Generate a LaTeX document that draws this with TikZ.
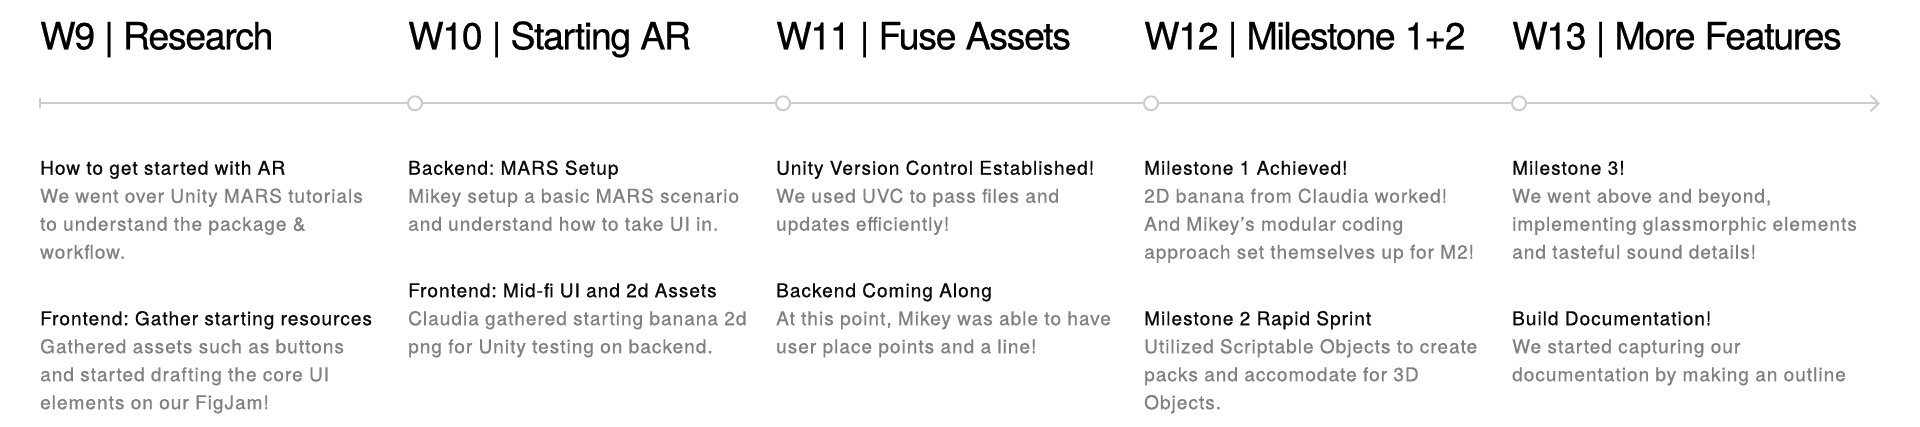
\documentclass[tikz,border=0pt]{standalone}
\usepackage{fontspec}
\setmainfont{TeX Gyre Heros}
\newfontfamily\titlefont[LetterSpace=-3.6,FakeBold=0.6]{TeX Gyre Heros}
\newfontfamily\bodyfont[LetterSpace=5.4,FakeBold=0.8]{TeX Gyre Heros}
\usetikzlibrary{arrows.meta}
\definecolor{linec}{HTML}{CCCCCC}
\definecolor{bodyc}{HTML}{808080}
\definecolor{headc}{HTML}{0A0A0A}
\tikzset{
  weektitle/.style={anchor=base west, inner sep=0pt, font=\titlefont\fontsize{37.5}{40}\selectfont, text=black},
  sect/.style={anchor=north west, inner sep=0pt, align=left, font=\bodyfont\fontsize{19}{28}\selectfont\frenchspacing, text=bodyc},
  dot/.style={circle, draw=linec, fill=white, line width=2pt, minimum size=14pt, inner sep=0pt},
  axis/.style={draw=linec, line width=2pt},
}
\newcommand{\hd}[1]{\rule{0pt}{20pt}\textcolor{headc}{#1}}
\begin{document}
\begin{tikzpicture}[x=1pt,y=-1pt]
\useasboundingbox (0,0) rectangle (1920,427);
% titles
\node[weektitle] (t9)  at (40,49.3)   {W9 | Research};
\node[weektitle] (t10) at (408,49.3)  {W10 | Starting AR};
\node[weektitle] (t11) at (776,49.3)  {W11 | Fuse Assets};
\node[weektitle] (t12) at (1144,49.3) {W12 | Milestone 1+2};
\node[weektitle] (t13) at (1512,49.3) {W13 | More Features};
% timeline
\coordinate (start) at (40,103.3);
\coordinate (end) at (1880,103.3);
\node[dot] (d10) at (415,103.3) {};
\node[dot] (d11) at (783,103.3) {};
\node[dot] (d12) at (1151,103.3) {};
\node[dot] (d13) at (1519,103.3) {};
\draw[axis] ([yshift=-5pt]start) -- ([yshift=5pt]start);
\draw[axis] (start) -- (d10);
\draw[axis] (d10) -- (d11);
\draw[axis] (d11) -- (d12);
\draw[axis] (d12) -- (d13);
\draw[axis, -{Straight Barb[length=8pt,width=16pt]}] (d13) -- (end);
% sections
\node[sect] (a1) at (40,154.5) {\hd{How to get started with AR}\\We went over Unity MARS tutorials\\to understand the package \&\\workflow.};
\node[sect] (a2) at (40,305) {\hd{Frontend: Gather starting resources}\\Gathered assets such as buttons\\and started drafting the core UI\\elements on our FigJam!};
\node[sect] (b1) at (408,154.5) {\hd{Backend: MARS Setup}\\Mikey setup a basic MARS scenario\\and understand how to take UI in.};
\node[sect] (b2) at (408,277) {\hd{Frontend: Mid-fi UI and 2d Assets}\\Claudia gathered starting banana 2d\\png for Unity testing on backend.};
\node[sect] (c1) at (776,154.5) {\hd{Unity Version Control Established!}\\We used UVC to pass files and\\updates efficiently!};
\node[sect] (c2) at (776,277) {\hd{Backend Coming Along}\\At this point, Mikey was able to have\\user place points and a line!};
\node[sect] (e1) at (1144,154.5) {\hd{Milestone 1 Achieved!}\\2D banana from Claudia worked!\\And Mikey’s modular coding\\approach set themselves up for M2!};
\node[sect] (e2) at (1144,305) {\hd{Milestone 2 Rapid Sprint}\\Utilized Scriptable Objects to create\\packs and accomodate for 3D\\Objects.};
\node[sect] (f1) at (1512,154.5) {\hd{Milestone 3!}\\We went above and beyond,\\implementing glassmorphic elements\\and tasteful sound details!};
\node[sect] (f2) at (1512,305) {\hd{Build Documentation!}\\We started capturing our\\documentation by making an outline};
\end{tikzpicture}
\end{document}
